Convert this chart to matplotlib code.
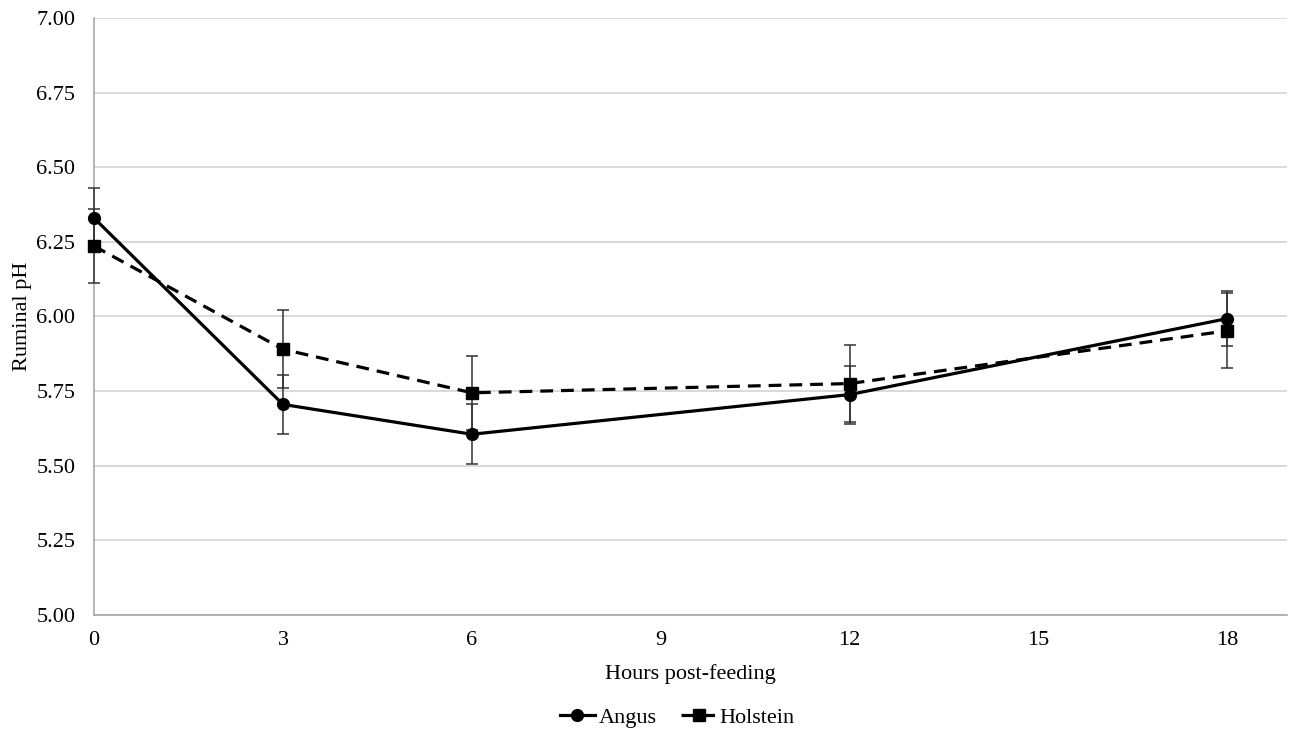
import matplotlib.pyplot as plt
from matplotlib.lines import Line2D

hours = [0, 3, 6, 12, 18]
angus = [6.33, 5.705, 5.605, 5.738, 5.993]
angus_err = [0.10, 0.10, 0.10, 0.097, 0.092]
holstein = [6.236, 5.89, 5.744, 5.775, 5.952]
holstein_err = [0.125, 0.13, 0.125, 0.128, 0.125]

plt.rcParams['font.family'] = ['Liberation Serif', 'DejaVu Serif']

fig = plt.figure(figsize=(12.9, 7.3), dpi=100)
ax = fig.add_axes([0.0729, 0.158, 0.925, 0.817])

dash = (0, (4, 2.5))
for vals, err, ls, mk in [(angus, angus_err, '-', 'o'), (holstein, holstein_err, dash, 's')]:
    ax.errorbar(hours, vals, yerr=err, fmt='none', ecolor='#333333', elinewidth=1.1,
                capsize=4, capthick=1.1, zorder=3, clip_on=False)
    ax.plot(hours, vals, color='black', lw=2.3, ls=ls, marker=mk, ms=8.5, zorder=4, clip_on=False)

ax.set_xlim(0, 18.95)
ax.set_ylim(5.0, 7.0)
ax.set_xticks([0, 3, 6, 9, 12, 15, 18])
ax.set_yticks([5.0 + 0.25 * i for i in range(9)])
ax.set_yticklabels(['%.2f' % (5.0 + 0.25 * i) for i in range(9)])
ax.tick_params(length=0, labelsize=16)
ax.tick_params(axis='y', pad=13.5)
ax.tick_params(axis='x', pad=12)
ax.grid(axis='y', color='#d0d0d0', lw=1.1)
ax.set_axisbelow(True)
for s in ['top', 'right']:
    ax.spines[s].set_visible(False)
for s in ['left', 'bottom']:
    ax.spines[s].set_color('#a0a0a0')
    ax.spines[s].set_linewidth(1.1)

ax.set_xlabel('Hours post-feeding', fontsize=16, labelpad=10)
ax.set_ylabel('Ruminal pH', fontsize=16, labelpad=3)

handles = [Line2D([], [], color='black', lw=2.3, marker='o', ms=8.5),
           Line2D([], [], color='black', lw=2.3, ls=dash, marker='s', ms=8.5)]
fig.legend(handles, ['Angus', 'Holstein'], loc='center', bbox_to_anchor=(0.525, 0.017), ncol=2,
           frameon=False, fontsize=16, handlelength=1.6, handletextpad=0.15, columnspacing=1.1)

fig.savefig('out.png', dpi=100)
